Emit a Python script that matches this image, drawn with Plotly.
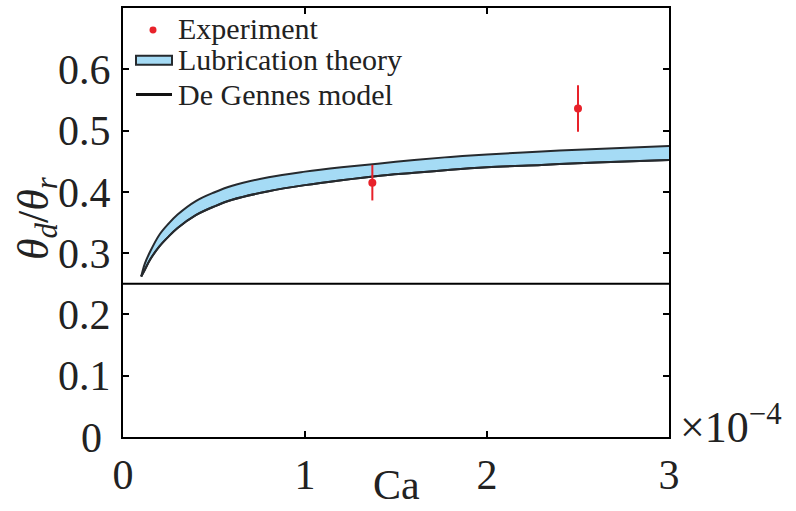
import plotly.graph_objects as go

# Capillary number samples (x1e-4) and the lubrication-theory band edges
ca_band = [0.10, 0.12, 0.15, 0.20, 0.25, 0.30, 0.40, 0.50, 0.60, 0.80, 1.00,
           1.20, 1.40, 1.60, 1.80, 2.00, 2.30, 2.60, 3.00]
band_upper = [0.262, 0.283, 0.303, 0.330, 0.348, 0.363, 0.385, 0.399, 0.410,
              0.424, 0.433, 0.440, 0.446, 0.452, 0.457, 0.461, 0.466, 0.470, 0.475]
band_lower = [0.262, 0.273, 0.290, 0.311, 0.327, 0.341, 0.362, 0.376, 0.387,
              0.401, 0.411, 0.419, 0.426, 0.431, 0.436, 0.440, 0.444, 0.448, 0.452]

# Experimental points (Ca x1e-4), ratio and error half-width
ca_exp = [1.37, 2.50]
ratio_exp = [0.415, 0.536]
ratio_err = [0.029, 0.038]

x_ticks = [0, 1, 2, 3]
x_ticklabels = ["0", "1", "2", "3"]
y_ticks = [0.1, 0.2, 0.3, 0.4, 0.5, 0.6]
y_ticklabels = ["0.1", "0.2", "0.3", "0.4", "0.5", "0.6"]

SCALE = 1e-4
FONT = "Times, serif"
BLUE = "#a5dbf5"
RED = "#e8222a"
EDGE = "#262a2e"
TXT = "#222"

W, H = 796, 511
ML, MR, MT, MB = 123, 127, 6, 74
PW, PH = W - ML - MR, H - MT - MB


def px(xp):
    return (xp - ML) / PW


def py(yp):
    return 1 - (yp - MT) / PH


fig = go.Figure()

xs = [c * SCALE for c in ca_band]
# Lubrication-theory band: lower edge, then upper edge filled down to it
fig.add_trace(go.Scatter(
    x=xs, y=band_lower, mode="lines",
    line=dict(color=EDGE, width=2, shape="spline", smoothing=1),
    showlegend=False, hoverinfo="skip"))
fig.add_trace(go.Scatter(
    x=xs, y=band_upper, mode="lines",
    line=dict(color=EDGE, width=2, shape="spline", smoothing=1),
    fill="tonexty", fillcolor=BLUE, showlegend=False, hoverinfo="skip"))
# De Gennes model curve along the lower edge
fig.add_trace(go.Scatter(
    x=xs, y=band_lower, mode="lines",
    line=dict(color=EDGE, width=2, shape="spline", smoothing=1),
    showlegend=False, hoverinfo="skip"))

# Experiment with error bars
fig.add_trace(go.Scatter(
    x=[c * SCALE for c in ca_exp], y=ratio_exp, mode="markers",
    marker=dict(color=RED, size=8),
    error_y=dict(type="data", array=ratio_err, color=RED, thickness=2, width=0),
    showlegend=False))

axis_common = dict(
    showline=True, linecolor="black", linewidth=2, mirror="allticks",
    ticks="inside", ticklen=6, tickwidth=1.5, tickcolor="black",
    showgrid=False, zeroline=False,
    tickfont=dict(family=FONT, size=42, color=TXT),
)

fig.update_xaxes(
    range=[0, 3 * SCALE], tickvals=[t * SCALE for t in x_ticks],
    ticktext=x_ticklabels, **axis_common)
fig.update_yaxes(
    range=[0, 0.7], tickvals=y_ticks, ticktext=y_ticklabels,
    ticklabelstandoff=2, **axis_common)

shapes = [
    # separator at 0.25
    dict(type="line", xref="paper", yref="y", x0=0, x1=1, y0=0.25, y1=0.25,
         line=dict(color="black", width=2)),
    # legend symbols
    dict(type="circle", xref="paper", yref="paper",
         x0=px(149.5), x1=px(156.5), y0=py(31.5), y1=py(24.5),
         fillcolor=RED, line=dict(width=0)),
    dict(type="rect", xref="paper", yref="paper",
         x0=px(136), x1=px(172), y0=py(63), y1=py(54),
         fillcolor=BLUE, line=dict(color=EDGE, width=2)),
    dict(type="line", xref="paper", yref="paper",
         x0=px(136), x1=px(172), y0=py(93), y1=py(93),
         line=dict(color="#111", width=3)),
]

annotations = []
legend_items = [("Experiment", 27), ("Lubrication theory", 58), ("De Gennes model", 93)]
for label, yp in legend_items:
    annotations.append(dict(
        text=label, xref="paper", yref="paper", x=px(176), y=py(yp),
        xanchor="left", yanchor="middle", showarrow=False,
        font=dict(family=FONT, size=30, color=TXT)))

annotations += [
    dict(text="0", xref="paper", yref="paper", x=px(104), y=py(438),
         xanchor="right", yanchor="middle", showarrow=False,
         font=dict(family=FONT, size=42, color=TXT)),
    dict(text="×10<sup>−4</sup>", xref="paper", yref="paper", x=px(678), y=py(424),
         xanchor="left", yanchor="middle", showarrow=False,
         font=dict(family=FONT, size=44, color=TXT)),
    dict(text="Ca", xref="paper", yref="paper", x=px(396), y=py(485),
         xanchor="center", yanchor="middle", showarrow=False,
         font=dict(family=FONT, size=42, color=TXT)),
    dict(text="<i>θ</i><sub><i>d</i></sub>/<i>θ</i><sub><i>r</i></sub>",
         xref="paper", yref="paper", x=px(36), y=py(217), textangle=-90,
         xanchor="center", yanchor="middle", showarrow=False,
         font=dict(family=FONT, size=44, color=TXT)),
]

fig.update_layout(
    width=W, height=H, margin=dict(l=ML, r=MR, t=MT, b=MB),
    plot_bgcolor="white", paper_bgcolor="white",
    shapes=shapes, annotations=annotations, showlegend=False,
)

fig.write_html("out.html")
